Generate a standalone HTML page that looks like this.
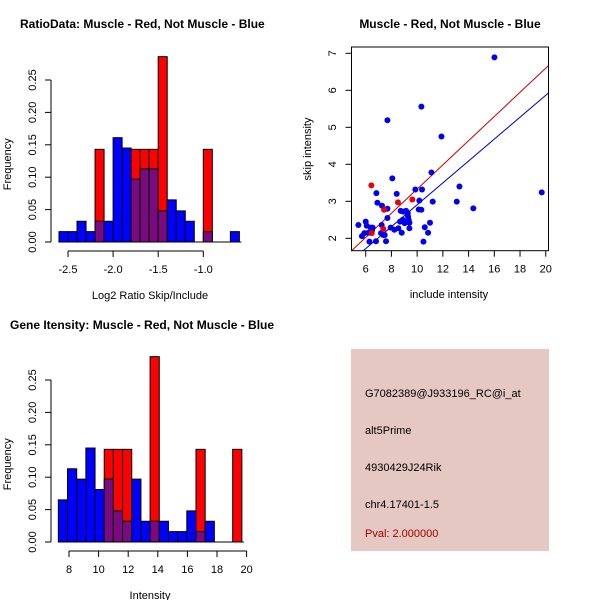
<!DOCTYPE html>
<html><head><meta charset="utf-8"><style>
body{margin:0;background:#fff}
svg{display:block;font-family:"Liberation Sans",sans-serif}
</style></head><body>
<svg id="s" width="600" height="600" xmlns="http://www.w3.org/2000/svg">
<text x="20" y="28" font-size="12" font-weight="bold">RatioData: Muscle - Red, Not Muscle - Blue</text>
<text x="450" y="28" font-size="12" font-weight="bold" text-anchor="middle">Muscle - Red, Not Muscle - Blue</text>
<text x="10" y="329" font-size="12" font-weight="bold">Gene Itensity: Muscle - Red, Not Muscle - Blue</text>
<g id="h1"></g>
<g id="h2"></g>
<g id="sc"></g>
<g>
<rect x="351" y="349" width="198" height="202" fill="#e4c8c1"/>
<g font-size="11" fill="#000">
<text x="365" y="397">G7082389@J933196_RC@i_at</text>
<text x="365" y="434">alt5Prime</text>
<text x="365" y="471">4930429J24Rik</text>
<text x="365" y="508">chr4.17401-1.5</text>
<text x="365" y="537" fill="#a00000">Pval: 2.000000</text>
</g></g>
</svg>
<script>
const NS="http://www.w3.org/2000/svg";
// Ratio histogram data
const ratioBinStart=-2.6, ratioBinWidth=0.1;
const ratioBlue=[0.016,0.016,0.032,0.016,0.032,0.032,0.161,0.145,0.097,0.113,0.113,0.048,0.065,0.048,0.032,0,0.016,0,0,0.016];
const ratioRed=[0,0,0,0,0.143,0,0,0,0.143,0.143,0.143,0.286,0,0,0,0,0.143,0,0,0];
const ratioTicks=[-2.5,-2.0,-1.5,-1.0];
const ratioTickLabels=["-2.5","-2.0","-1.5","-1.0"];
// Intensity histogram data
const intBinStart=7.28, intBinWidth=0.62;
const intBlue=[0.065,0.113,0.097,0.145,0.081,0.097,0.048,0.032,0.097,0.032,0.032,0.032,0.016,0.016,0.048,0.016,0.032,0,0,0];
const intRed=[0,0,0,0,0,0.143,0.143,0.143,0,0,0.286,0,0,0,0,0.143,0,0,0,0.143];
const intTicks=[8,10,12,14,16,18,20];
const freqTicks=[0,0.05,0.1,0.15,0.2,0.25];
const freqTickLabels=["0.00","0.05","0.10","0.15","0.20","0.25"];
// Scatter data
const blueX=[5.43,5.71,6.00,6.08,5.90,6.21,6.29,6.39,6.54,6.49,6.80,6.83,6.91,7.27,7.24,7.19,7.37,7.48,7.58,7.69,7.69,7.69,7.94,8.07,8.23,8.41,8.54,8.67,8.72,8.80,8.88,8.93,9.03,9.14,9.19,9.27,9.29,9.34,9.40,9.40,9.86,10.12,10.17,10.33,10.38,10.33,10.49,10.59,10.85,11.00,11.11,11.21,11.89,13.08,13.29,14.37,16.01,19.69];
const blueY=[2.36,2.06,2.45,2.34,2.14,2.15,1.91,2.29,2.29,2.21,1.92,3.22,2.96,2.88,2.36,2.14,2.09,2.09,1.92,2.80,2.55,5.19,2.29,3.62,2.23,3.20,2.27,2.45,2.74,2.15,2.50,2.72,2.41,2.74,2.45,2.68,2.59,2.50,2.27,2.42,3.32,2.78,3.02,2.77,3.32,5.56,1.91,2.30,2.15,2.42,3.78,2.99,4.75,2.99,3.40,2.81,6.89,3.24];
const redX=[6.44,8.51,9.63,7.43,7.37,6.47];
const redY=[3.43,2.97,3.05,2.77,2.25,2.14];
const redFit=[0.06,0.327], blueFit=[-0.055,0.296];
const scXTicks=[6,8,10,12,14,16,18,20];
const scYTicks=[2,3,4,5,6,7];

function mk(tag,attrs,parent){const e=document.createElementNS(NS,tag);for(const k in attrs)e.setAttribute(k,attrs[k]);parent.appendChild(e);return e;}

function hist(gid,y0,bStart,bW,blue,red,xs,ticks,labels,xlabel,ax){
  const g=document.getElementById(gid);
  const ys=v=>y0-v*648;
  const n=blue.length;
  for(let i=0;i<n;i++){
    const a=bStart+i*bW,b=a+bW;
    const x1=xs(a),x2=xs(b);
    const bl=blue[i],rd=red[i];
    if(rd>0){
      const r=mk('rect',{x:x1,y:ys(rd),width:x2-x1,height:rd*648,fill:'#ff0000',stroke:'#000','stroke-width':1},g);
      
      
      if(bl>0){
        const p=mk('rect',{x:x1,y:ys(Math.min(bl,rd)),width:x2-x1,height:Math.min(bl,rd)*648,fill:'#7a0a80',stroke:'#000','stroke-width':1},g);
        
        
      }
    } else if(bl>0){
      const r=mk('rect',{x:x1,y:ys(bl),width:x2-x1,height:bl*648,fill:'#0000ff',stroke:'#000','stroke-width':1},g);
      
      
    }
  }
  mk('line',{x1:xs(bStart),x2:xs(bStart+n*bW)+2,y1:y0,y2:y0,stroke:'#000'},g);
  mk('line',{x1:51,x2:51,y1:ys(0),y2:ys(0.25),stroke:'#000'},g);
  freqTicks.forEach((t,i)=>{
    mk('line',{x1:45,x2:51,y1:ys(t),y2:ys(t),stroke:'#000'},g);
    const tx=mk('text',{x:0,y:0,'font-size':11,'text-anchor':'middle',transform:`translate(36,${ys(t)}) rotate(-90)`},g);
    tx.textContent=freqTickLabels[i];
    
    
  });
  const ay=y0+9;
  mk('line',{x1:xs(ticks[0]),x2:xs(ticks[ticks.length-1]),y1:ay,y2:ay,stroke:'#000'},g);
  ticks.forEach((t,i)=>{
    mk('line',{x1:xs(t),x2:xs(t),y1:ay,y2:ay+6,stroke:'#000'},g);
    const tx=mk('text',{x:xs(t),y:ay+22,'font-size':11,'text-anchor':'middle'},g);
    tx.textContent=labels[i];
    
    
  });
  const xl=mk('text',{x:ax,y:y0+57,'font-size':11,'text-anchor':'middle'},g);
  xl.textContent=xlabel;
  
  
  const yl=mk('text',{x:0,y:0,'font-size':11,'text-anchor':'middle',transform:`translate(11,${ys(0.12)}) rotate(-90)`},g);
  yl.textContent='Frequency';
  
  
}
hist('h1',242,ratioBinStart,ratioBinWidth,ratioBlue,ratioRed,v=>68+(v+2.5)*90.2,ratioTicks,ratioTickLabels,'Log2 Ratio Skip/Include',150);
hist('h2',542,intBinStart,intBinWidth,intBlue,intRed,v=>69+(v-8)*14.8,intTicks,intTicks.map(String),'Intensity',150);

(function(){
  const g=document.getElementById('sc');
  const X=v=>365.7+(v-6)*12.86, Y=v=>238.3-(v-2)*37;
  const L=351.5,R=548.5,T=47,B=250.7;
  const cp=mk('clipPath',{id:'clip'},g);mk('rect',{x:L,y:T,width:R-L,height:B-T},cp);
  const xmin=4.9,xmax=20.2;
  [[redFit,'#c00000','red-fit-line'],[blueFit,'#0000c0','blue-fit-line']].forEach(([f,c,nm])=>{
    const l=mk('line',{x1:X(xmin),y1:Y(f[0]+f[1]*xmin),x2:X(xmax),y2:Y(f[0]+f[1]*xmax),stroke:c,'stroke-width':1,'clip-path':'url(#clip)'},g);
    
    
  });
  blueX.forEach((x,i)=>{
    const c=mk('circle',{cx:X(x),cy:Y(blueY[i]),r:3,fill:'#0000ee'},g);
    
    
  });
  redX.forEach((x,i)=>{
    const c=mk('circle',{cx:X(x),cy:Y(redY[i]),r:3,fill:'#ee0000'},g);
    
    
  });
  mk('rect',{x:L,y:T,width:R-L,height:B-T,fill:'none',stroke:'#000'},g);
  scXTicks.forEach(t=>{
    mk('line',{x1:X(t),x2:X(t),y1:B,y2:B+6,stroke:'#000'},g);
    const tx=mk('text',{x:X(t),y:B+22,'font-size':11,'text-anchor':'middle'},g);
    tx.textContent=t;
    
    
  });
  scYTicks.forEach(t=>{
    mk('line',{x1:L-6,x2:L,y1:Y(t),y2:Y(t),stroke:'#000'},g);
    const tx=mk('text',{x:0,y:0,'font-size':11,'text-anchor':'middle',transform:`translate(336,${Y(t)}) rotate(-90)`},g);
    tx.textContent=t;
    
    
  });
  const xl=mk('text',{x:449,y:298,'font-size':11,'text-anchor':'middle'},g);
  xl.textContent='include intensity';
  
  
  const yl=mk('text',{x:0,y:0,'font-size':11,'text-anchor':'middle',transform:'translate(311,149) rotate(-90)'},g);
  yl.textContent='skip intensity';
  
  
})();
</script>
</body></html>
